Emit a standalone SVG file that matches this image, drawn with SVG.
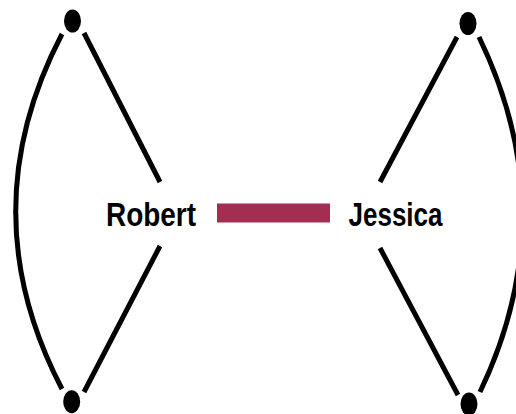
<svg xmlns="http://www.w3.org/2000/svg" width="516" height="414" viewBox="0 0 516 414">
<style>
.edge{fill:none;stroke:#000;stroke-width:5}
.dot{fill:#000}
.lbl{font-family:"Liberation Sans",Arial,sans-serif;font-weight:bold;font-size:33px;fill:#000;text-anchor:middle}
</style>
<rect width="516" height="414" fill="#fff"/>
<g id="connectors">
<line class="edge" x1="84" y1="33" x2="160" y2="182"/>
<line class="edge" x1="160" y1="246" x2="84" y2="392"/>
<path class="edge" d="M62,34 Q-30.6,211.5 62,389"/>
<line class="edge" x1="457" y1="37" x2="380" y2="182"/>
<line class="edge" x1="380" y1="248" x2="458" y2="395"/>
<path class="edge" d="M479,37 Q565,214.5 480,392"/>
<line x1="217" y1="213" x2="330" y2="213" stroke="#a22f52" stroke-width="19"/>
</g>
<g id="node-robert"><text class="lbl" x="151" y="225.5" textLength="90" lengthAdjust="spacingAndGlyphs">Robert</text></g>
<g id="node-jessica"><text class="lbl" x="395.5" y="225.5" textLength="94" lengthAdjust="spacingAndGlyphs">Jessica</text></g>
<g id="node-tl"><ellipse class="dot" cx="72.5" cy="21" rx="8.5" ry="11.5"/></g>
<g id="node-tr"><ellipse class="dot" cx="468" cy="23.5" rx="8.5" ry="11.5"/></g>
<g id="node-bl"><ellipse class="dot" cx="71.7" cy="401.7" rx="8.5" ry="11.5"/></g>
<g id="node-br"><ellipse class="dot" cx="469" cy="404" rx="8.5" ry="11.5"/></g>
</svg>
